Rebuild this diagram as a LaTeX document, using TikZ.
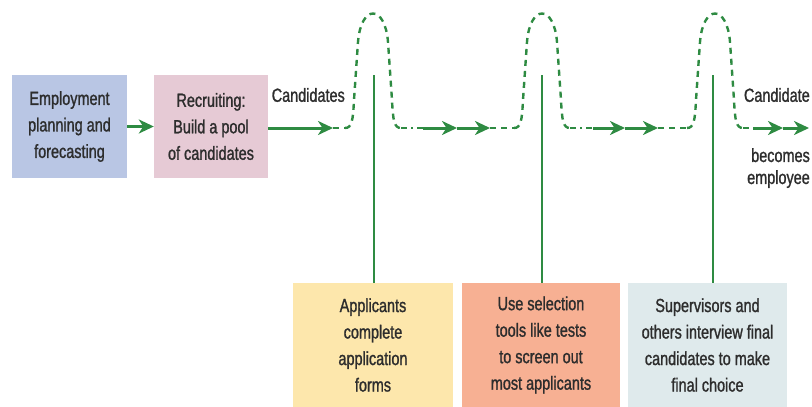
\documentclass[tikz,border=0pt]{standalone}
\usepackage{fontspec}
\setmainfont[FakeStretch=0.76,FakeBold=1.2]{Liberation Sans}
\usetikzlibrary{arrows.meta}
\definecolor{gr}{RGB}{46,139,66}
\definecolor{txt}{RGB}{45,45,45}
\definecolor{cblue}{RGB}{185,198,228}
\definecolor{cpink}{RGB}{230,202,213}
\definecolor{cyel}{RGB}{253,231,172}
\definecolor{csal}{RGB}{247,176,147}
\definecolor{cgray}{RGB}{223,234,236}
\tikzset{
  lbl/.style={inner sep=0pt, align=center, text=txt, font=\fontsize{19}{26.5}\selectfont},
  box/.style={lbl, minimum height=103pt},
  bbox/.style={lbl, minimum height=124pt},
  sol/.style={draw=gr, line width=3pt, -{Stealth[length=15pt,width=14pt,inset=4.5pt]}},
  dsh/.style={draw=gr, line width=2.4pt, dash pattern=on 6pt off 5pt},
  ddot/.style={draw=gr, line width=2.4pt, dash pattern=on 6pt off 4pt on 2pt off 4pt},
  vln/.style={draw=gr, line width=2.5pt}
}
\begin{document}
\begin{tikzpicture}[x=1pt,y=-1pt]
\useasboundingbox (0,0) rectangle (812,407);
% top boxes
\node[box, fill=cblue, minimum width=115pt] (emp) at (69.5,126.5) {Employment\\planning and\\forecasting};
\node[box, fill=cpink, minimum width=114pt] (rec) at (211,126.5) {Recruiting:\\Build a pool\\of candidates};
% bottom boxes
\node[bbox, fill=cyel, minimum width=160pt] (app) at (373,345) {Applicants\\complete\\application\\forms};
\node[bbox, fill=csal, minimum width=158pt] (sel) at (541,345) {Use selection\\tools like tests\\to screen out\\most applicants};
\node[bbox, fill=cgray, minimum width=159pt] (sup) at (707.5,345) {Supervisors and\\others interview final\\candidates to make\\final choice};
% labels
\node[lbl, anchor=east] (cands) at (345,95) {Candidates};
\node[lbl, anchor=east] (cand) at (810,95) {Candidate};
\node[lbl, anchor=north east, align=right, font=\fontsize{19}{22}\selectfont] (becomes) at (810,148) {becomes\\employee};
% coordinates
\coordinate (s1) at (333,128);
\coordinate (h1l) at (345,128);
\coordinate (h1r) at (401,128);
\coordinate (a1) at (423,128);
\coordinate (a2) at (457,128);
\coordinate (a3) at (490,128);
\coordinate (h2l) at (514,128);
\coordinate (h2r) at (570,128);
\coordinate (b1) at (593,128);
\coordinate (b2) at (625,128);
\coordinate (b3) at (658,128);
\coordinate (h3l) at (687,128);
\coordinate (h3r) at (743,128);
\coordinate (c1) at (753,128);
\coordinate (c2) at (783,128);
\coordinate (c3) at (809,128);
\coordinate (v1) at (374,75);
\coordinate (v2) at (542,75);
\coordinate (v3) at (713,75);
% flow
\draw[sol] (emp.east) -- (rec.west);
\draw[sol] (rec.east |- s1) -- (s1);
\draw[dsh] (s1) -- (h1l);
\draw[dsh] (h1l) .. controls (352,128) and (353,120) .. (354,100) -- (358,42)
  .. controls (361,4) and (385,4) .. (388,42) -- (392,100)
  .. controls (393,120) and (394,128) .. (h1r);
\draw[ddot] (h1r) -- (a1);
\draw[sol] (a1) -- (a2);
\draw[sol] (a2) -- (a3);
\draw[dsh] (a3) -- (h2l);
\draw[dsh] (h2l) .. controls (521,128) and (522,120) .. (523,100) -- (527,42)
  .. controls (530,4) and (554,4) .. (557,42) -- (561,100)
  .. controls (562,120) and (563,128) .. (h2r);
\draw[ddot] (h2r) -- (b1);
\draw[sol] (b1) -- (b2);
\draw[sol] (b2) -- (b3);
\draw[dsh] (b3) -- (h3l);
\draw[dsh] (h3l) .. controls (694,128) and (695,120) .. (696,100) -- (700,42)
  .. controls (703,4) and (727,4) .. (730,42) -- (734,100)
  .. controls (735,120) and (736,128) .. (h3r);
\draw[ddot] (h3r) -- (c1);
\draw[sol] (c1) -- (c2);
\draw[sol] (c2) -- (c3);
% verticals
\draw[vln] (v1) -- (v1 |- app.north);
\draw[vln] (v2) -- (v2 |- sel.north);
\draw[vln] (v3) -- (v3 |- sup.north);
\end{tikzpicture}
\end{document}
